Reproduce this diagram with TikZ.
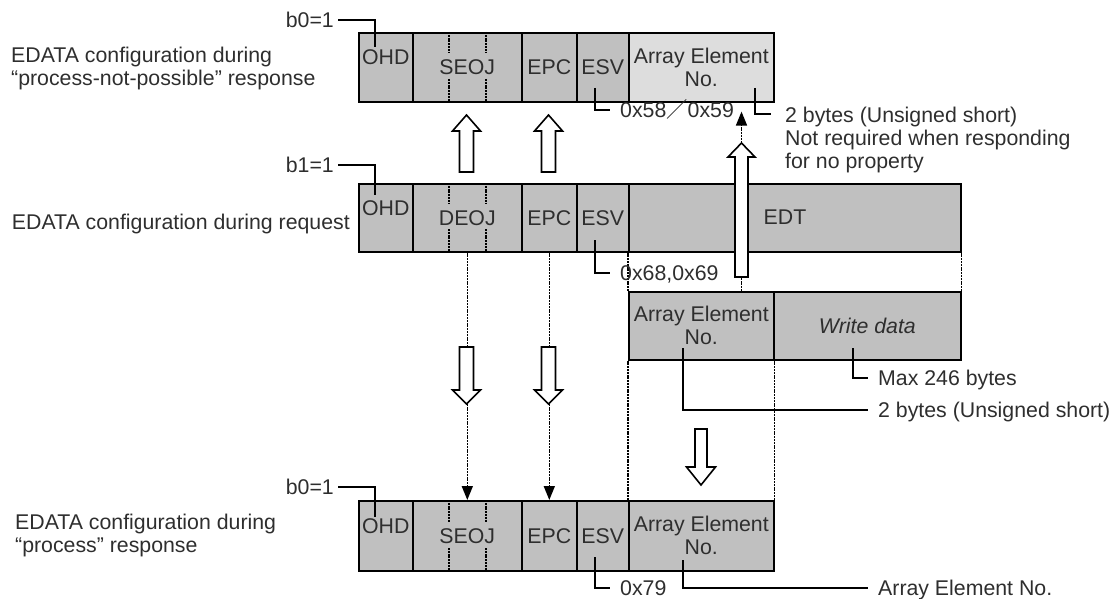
\documentclass[tikz,border=0pt]{standalone}
\usepackage{fontspec}
\setmainfont{Liberation Sans}
\newfontfamily\cjkfont{Noto Sans CJK JP}
\usetikzlibrary{arrows.meta}
\definecolor{fgray}{HTML}{C0C0C0}
\definecolor{lgray}{HTML}{DDDDDD}
\definecolor{tcol}{HTML}{2E2E2E}
\newcommand\dfont{\fontsize{21.3pt}{23pt}\selectfont}
% x, tip y, head base y, shaft end y, half shaft, half head
\newcommand\hollowarrow[6]{%
  \draw[hollow] (#1-#5,#4) -- (#1-#5,#3) -- (#1-#6,#3) -- (#1,#2) -- (#1+#6,#3) -- (#1+#5,#3) -- (#1+#5,#4) -- cycle;}
\begin{document}
\begin{tikzpicture}[x=1pt,y=-1pt,
  fld/.style={draw=black, line width=1.6pt, fill=fgray, inner sep=0pt, anchor=north west, text=tcol, font=\dfont, align=center},
  s1/.style={font=\dfont, text=tcol, inner sep=0pt, text height=15.2pt, text depth=0pt},
  ml/.style={font=\dfont, text=tcol, inner sep=0pt, align=left},
  ld/.style={draw=black, line width=1.6pt},
  dotl/.style={draw=black, line width=1.6pt, dash pattern=on 2pt off 0.8pt},
  tick/.style={draw=black, line width=1.5pt, dash pattern=on 2pt off 0.8pt},
  hollow/.style={draw=black, line width=1.6pt, fill=white, line join=miter},
  tip/.style={-{Triangle[length=14pt,width=11pt]}}
]
\useasboundingbox (0,0) rectangle (1113,599);

% ---------- top row: process-not-possible response ----------
\node[fld, minimum width=54pt,  minimum height=69pt] (ohdA)  at (358,32) {};
\node[fld, minimum width=109pt, minimum height=69pt] (seojA) at (412,32) {SEOJ};
\node[fld, minimum width=55pt,  minimum height=69pt] (epcA)  at (521,32) {EPC};
\node[fld, minimum width=52pt,  minimum height=69pt] (esvA)  at (576,32) {ESV};
\node[fld, minimum width=145pt, minimum height=69pt, fill=lgray] (aenA) at (628,32) {Array Element\\No.};
\node[s1] (ohdAt) at ([yshift=10pt]ohdA.center) {OHD};
\draw[tick] (449,32) -- (449,53) (449,79) -- (449,101);
\draw[tick] (486,32) -- (486,53) (486,79) -- (486,101);

% ---------- middle row: request ----------
\node[fld, minimum width=54pt,  minimum height=68pt] (ohdB)  at (358,183) {};
\node[fld, minimum width=109pt, minimum height=68pt] (deojB) at (412,183) {DEOJ};
\node[fld, minimum width=55pt,  minimum height=68pt] (epcB)  at (521,183) {EPC};
\node[fld, minimum width=52pt,  minimum height=68pt] (esvB)  at (576,183) {ESV};
\node[fld, minimum width=332pt, minimum height=68pt] (edtB)  at (628,183) {};
\node[s1] (ohdBt) at ([yshift=10pt]ohdB.center) {OHD};
\node[s1] (edtBt) at (785,217) {EDT};
\draw[tick] (449,183) -- (449,204) (449,229) -- (449,251);
\draw[tick] (486,183) -- (486,204) (486,229) -- (486,251);

% ---------- EDT detail row ----------
\node[fld, minimum width=145pt, minimum height=68pt] (aenW) at (628,291) {Array Element\\No.};
\node[fld, minimum width=187pt, minimum height=68pt] (wdW)  at (773,291) {\itshape Write data};

% ---------- bottom row: process response ----------
\node[fld, minimum width=54pt,  minimum height=70pt] (ohdC)  at (358,500) {};
\node[fld, minimum width=109pt, minimum height=70pt] (seojC) at (412,500) {SEOJ};
\node[fld, minimum width=55pt,  minimum height=70pt] (epcC)  at (521,500) {EPC};
\node[fld, minimum width=52pt,  minimum height=70pt] (esvC)  at (576,500) {ESV};
\node[fld, minimum width=145pt, minimum height=70pt] (aenC)  at (628,500) {Array Element\\No.};
\node[s1] (ohdCt) at ([yshift=10pt]ohdC.center) {OHD};
\draw[tick] (449,500) -- (449,522) (449,548) -- (449,570);
\draw[tick] (486,500) -- (486,522) (486,548) -- (486,570);

% ---------- left labels ----------
\node[ml, anchor=west] (lblA) at (11,68.5) {EDATA configuration during\\“process-not-possible” response};
\node[s1, anchor=east] (lblB) at (350,222) {EDATA configuration during request};
\node[ml, anchor=west] (lblC) at (15,535.5) {EDATA configuration during\\“process” response};

% ---------- dotted guide lines ----------
\draw[dotl] (edtB.south west) -- (aenW.north west);
\draw[dotl] (edtB.south east) -- (wdW.north east);
\draw[dotl] (aenW.south west) -- (aenC.north west);
\draw[dotl] (aenW.south east) -- (aenC.north east);

% ---------- dotted arrows ----------
\draw[dotl, tip] (deojB.south) -- (seojC.north);
\draw[dotl, tip] (epcB.south) -- (epcC.north);
\coordinate (upx) at (741.5,0);
\draw[dotl, tip, shorten >=9pt] (aenW.north -| upx) -- (aenA.south -| upx);

% ---------- hollow arrows ----------
\hollowarrow{466.5}{115}{131}{172}{7}{14}
\hollowarrow{548.5}{115}{131}{172}{7}{14}
\hollowarrow{466.5}{404}{390}{347}{7}{14}
\hollowarrow{548.5}{404}{390}{347}{7}{14}
\hollowarrow{741.5}{143}{157}{277}{6.5}{13.5}
\hollowarrow{701}{485}{467}{429}{6}{14.5}

% ---------- leaders: top row ----------
\node[s1, anchor=east] (b0A) at (334,20) {b0=1};
\coordinate (kA1) at (375,47);
\draw[ld, shorten <=4pt] (b0A.east) -| (kA1);
\coordinate (kA2) at (595,88);
\node[s1, anchor=west] (t58) at (620,110) {0x58{\cjkfont ／}0x59};
\draw[ld, shorten >=10pt] (kA2) |- (t58.west);
\coordinate (kA3) at (755,88);
\coordinate (kA3e) at (771,114);
\node[ml, anchor=west] (t2b) at (785,140) {2 bytes (Unsigned short)\\Not required when responding\\for no property};
\draw[ld] (kA3) |- (kA3e);

% ---------- leaders: middle row ----------
\node[s1, anchor=east] (b1B) at (334,165) {b1=1};
\coordinate (kB1) at (375,195);
\draw[ld, shorten <=4pt] (b1B.east) -| (kB1);
\coordinate (kB2) at (595,240);
\node[s1, anchor=west] (t68) at (620,273) {0x68,0x69};
\draw[ld, shorten >=10pt] (kB2) |- (t68.west);

% ---------- leaders: detail row ----------
\coordinate (kW1) at (853,348);
\node[s1, anchor=west] (tmax) at (878,378) {Max 246 bytes};
\draw[ld, shorten >=10pt] (kW1) |- (tmax.west);
\coordinate (kW2) at (683,348);
\node[s1, anchor=west] (t2s) at (878,410) {2 bytes (Unsigned short)};
\draw[ld, shorten >=10pt] (kW2) |- (t2s.west);

% ---------- leaders: bottom row ----------
\node[s1, anchor=east] (b0C) at (334,487) {b0=1};
\coordinate (kC1) at (375,517);
\draw[ld, shorten <=4pt] (b0C.east) -| (kC1);
\coordinate (kC2) at (595,557);
\node[s1, anchor=west] (t79) at (620,588) {0x79};
\draw[ld, shorten >=10pt] (kC2) |- (t79.west);
\coordinate (kC3) at (683,560);
\node[s1, anchor=west] (taen) at (878,588) {Array Element No.};
\draw[ld, shorten >=10pt] (kC3) |- (taen.west);
\end{tikzpicture}
\end{document}
